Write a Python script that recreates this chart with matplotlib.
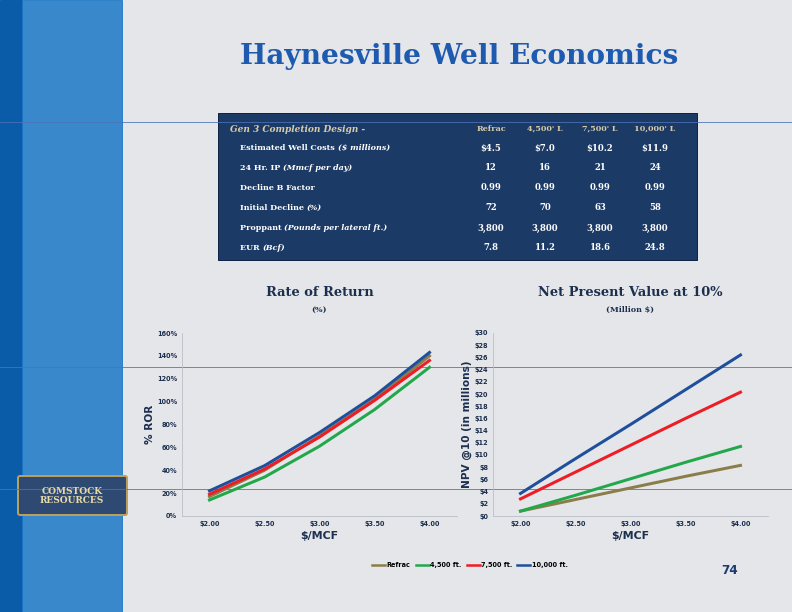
import numpy as np
import matplotlib.pyplot as plt
from matplotlib.patches import Rectangle, FancyBboxPatch

prices = ["$2.00", "$2.50", "$3.00", "$3.50", "$4.00"]
series = ["Refrac", "4,500 ft.", "7,500 ft.", "10,000 ft."]
colors = ["#8B7D4A", "#22A84A", "#EE1C24", "#1F4E9A"]
ror = {
    "Refrac": [17, 40, 70, 102, 140],
    "4,500 ft.": [14, 34, 61, 93, 130],
    "7,500 ft.": [19, 41, 69, 101, 136],
    "10,000 ft.": [22, 44, 73, 105, 143],
}
npv = {
    "Refrac": [0.8, 2.7, 4.6, 6.5, 8.3],
    "4,500 ft.": [0.8, 3.4, 6.1, 8.8, 11.4],
    "7,500 ft.": [2.8, 7.2, 11.6, 16.0, 20.3],
    "10,000 ft.": [3.7, 9.4, 15.0, 20.7, 26.4],
}
table_cols = ["Refrac", "4,500' L", "7,500' L", "10,000' L"]
table_rows = [
    ("Estimated Well Costs ", "($ millions)", ["$4.5", "$7.0", "$10.2", "$11.9"]),
    ("24 Hr. IP ", "(Mmcf per day)", ["12", "16", "21", "24"]),
    ("Decline B Factor", "", ["0.99", "0.99", "0.99", "0.99"]),
    ("Initial Decline ", "(%)", ["72", "70", "63", "58"]),
    ("Proppant ", "(Pounds per lateral ft.)", ["3,800", "3,800", "3,800", "3,800"]),
    ("EUR ", "(Bcf)", ["7.8", "11.2", "18.6", "24.8"]),
]

W, H = 792, 612
fig = plt.figure(figsize=(11, 8.5), dpi=72)
fig.patch.set_facecolor("#E4E6EA")

def fx(x): return x / W
def fy(y): return 1 - y / H

# background decoration
bg = fig.add_axes([0, 0, 1, 1]); bg.set_xlim(0, W); bg.set_ylim(H, 0); bg.axis("off")
bg.add_patch(Rectangle((0, 0), 22, H, color="#0A5BA8"))
bg.add_patch(Rectangle((22, 0), 100, H, color="#1B78C6", alpha=0.85))
for yy in [122, 367, 489]:
    bg.plot([0, W], [yy, yy], color="#4A72B8", lw=0.8)
bg.add_patch(FancyBboxPatch((20, 478), 105, 35, boxstyle="round,pad=2", fc="#2E4A72", ec="#B8A060", lw=2))
bg.text(72, 496, "COMSTOCK\nRESOURCES", ha="center", va="center", color="#E8D9A8",
        fontsize=9, fontweight="bold", family="DejaVu Serif", linespacing=0.9)

fig.text(fx(459), fy(57), "Haynesville Well Economics", ha="center", va="center",
         fontsize=28, fontweight="bold", color="#1E5BB0", family="DejaVu Serif")

# table
bg.add_patch(Rectangle((218, 113), 479, 147, color="#1C3A66", ec="#0E2448"))
colx = [491, 545, 600, 655]
fig.text(fx(230), fy(129), "Gen 3 Completion Design -", fontsize=9, fontweight="bold",
         style="italic", color="#D8CCA8", family="DejaVu Serif", va="center")
for cx, c in zip(colx, table_cols):
    fig.text(fx(cx), fy(129), c, fontsize=8, fontweight="bold", color="#D8CCA8",
             family="DejaVu Serif", ha="center", va="center")
for i, (lab, it, vals) in enumerate(table_rows):
    y = 148 + i * 20
    t = bg.text(240, y, lab, fontsize=8, fontweight="bold", color="white",
                family="DejaVu Serif", va="center")
    if it:
        bg.annotate(it, xycoords=t, xy=(1, 0.5), va="center", fontsize=8, fontweight="bold",
                    style="italic", color="white", family="DejaVu Serif")
    for cx, v in zip(colx, vals):
        bg.text(cx, y, v, fontsize=8.5, fontweight="bold", color="white",
                family="DejaVu Serif", ha="center", va="center")

x = np.arange(len(prices))

def make(ax, data, title, sub, ylabel, ticks, fmt):
    for s, c in zip(series, colors):
        ax.plot(x, data[s], color=c, lw=3)
    ax.set_xlim(-0.5, 4.5)
    ax.set_xticks(x, prices)
    ax.set_yticks(ticks, [fmt(t) for t in ticks])
    ax.set_ylim(ticks[0], ticks[-1])
    ax.patch.set_alpha(0)
    for sp in ["top", "right"]:
        ax.spines[sp].set_visible(False)
    for sp in ["left", "bottom"]:
        ax.spines[sp].set_color("#B8BCC4")
    ax.tick_params(length=0, labelsize=6.5, labelcolor="#1C2F4E", pad=5)
    for lab in ax.get_xticklabels() + ax.get_yticklabels():
        lab.set_fontweight("bold")
    ax.set_xlabel("$/MCF", fontsize=11, fontweight="bold", color="#1C2F4E")
    ax.set_ylabel(ylabel, fontsize=10.5, fontweight="bold", color="#1C2F4E", labelpad=2)
    cx = (ax.get_position().x0 + ax.get_position().x1) / 2
    fig.text(cx, fy(292), title, ha="center", va="center", fontsize=13, fontweight="bold",
             color="#1C2F4E", family="DejaVu Serif")
    fig.text(cx, fy(310), sub, ha="center", va="center", fontsize=8, fontweight="bold",
             color="#1C2F4E", family="DejaVu Serif")

ax1 = fig.add_axes([fx(182), fy(516), fx(275), fy(333) - fy(516)])
make(ax1, ror, "Rate of Return", "(%)", "% ROR", list(range(0, 161, 20)), lambda t: f"{t}%")
ax2 = fig.add_axes([fx(493), fy(516), fx(275), fy(333) - fy(516)])
make(ax2, npv, "Net Present Value at 10%", "(Million $)", "NPV @10 (in millions)",
     list(range(0, 31, 2)), lambda t: f"${t}")

handles = [plt.Line2D([], [], color=c, lw=2.5) for c in colors]
fig.legend(handles, series, loc="center", bbox_to_anchor=(fx(470), fy(565)), ncol=4,
           frameon=False, handlelength=2, columnspacing=0.8, handletextpad=0.2,
           prop={"weight": "bold", "size": 6.5})
fig.text(fx(730), fy(570), "74", fontsize=12, fontweight="bold", color="#1E3A6E",
         ha="center", va="center")

fig.savefig("out.png", dpi=72, facecolor=fig.get_facecolor())
